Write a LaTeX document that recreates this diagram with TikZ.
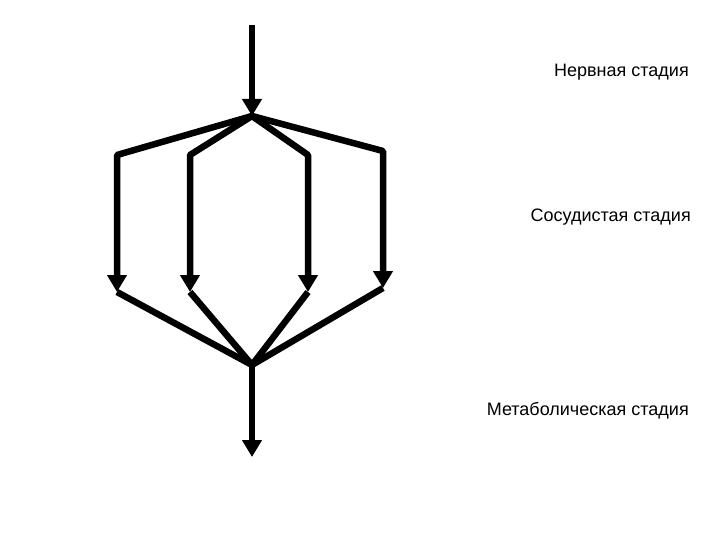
\documentclass[tikz,border=0pt]{standalone}
\usepackage{fontspec}
\setmainfont{Liberation Sans}
\usetikzlibrary{arrows.meta,positioning}

\begin{document}
\begin{tikzpicture}[x=1pt,y=-1pt,line width=6.5pt,line join=bevel,
    tip/.style={-{Triangle[width=19pt,length=17pt]}},
    stage/.style={anchor=east,inner sep=0pt,font=\fontsize{18}{21}\selectfont}]
    \useasboundingbox (0,0) rectangle (720,540);

    \coordinate (in)  at (252,25);
    \coordinate (top) at (252,116);
    \coordinate (bot) at (252,365);
    \coordinate (out) at (252,457);

    \coordinate (a1) at (117,155);  \coordinate (b1) at (117,292);
    \coordinate (a2) at (190,155);  \coordinate (b2) at (190,292);
    \coordinate (a3) at (308,155);  \coordinate (b3) at (308,292);
    \coordinate (a4) at (383,151);  \coordinate (b4) at (383,288);

    \node[stage] (nerv) at (692,72)  {Нервная стадия};
    \node[stage] (sosud) at (694,217) {Сосудистая стадия};
    \node[stage] (metab) at (692,411) {Метаболическая стадия};

    \draw[tip] (in) -- (top);
    \foreach \i in {1,...,4}
        \draw[tip] (top) -- (a\i) -- (b\i);
    \foreach \i in {1,...,4}
        \draw (b\i) -- (bot);
    \draw[tip] (bot) -- (out);
\end{tikzpicture}
\end{document}
